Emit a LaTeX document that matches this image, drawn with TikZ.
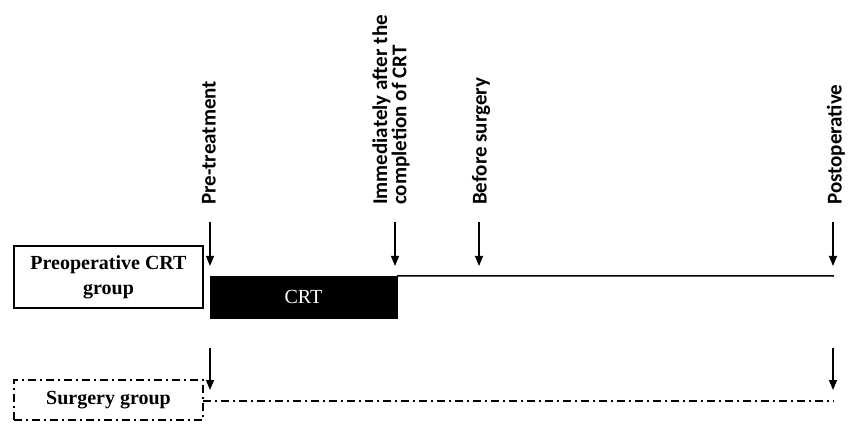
\documentclass[tikz,border=0pt]{standalone}
\usepackage{fontspec}
\setmainfont{Liberation Serif}
\newfontfamily\lab{Carlito}
\usetikzlibrary{arrows.meta}
\begin{document}
\begin{tikzpicture}[x=1pt,y=-1pt,
  grpbox/.style={draw, line width=1.2pt, minimum width=189pt, align=center, inner sep=0pt,
    font=\fontsize{20}{25}\selectfont\bfseries},
  lbl/.style={rotate=90, anchor=west, inner sep=0pt, align=left,
    font=\lab\bfseries\fontsize{21}{17}\selectfont},
  arr/.style={-{Triangle[length=10pt,width=8pt]}, line width=1.2pt},
  dashdotted2/.style={dash pattern=on 8pt off 4pt on 2pt off 4pt, line width=1.2pt}]
\useasboundingbox (0,0) rectangle (855,425);
% groups
\node[grpbox, minimum height=62pt] (pre) at (108.5,277) {Preoperative CRT\\group};
\node[grpbox, dashdotted2, minimum height=40pt] (surg) at (108.5,400) {Surgery group};
% CRT bar
\node[draw, fill=black, minimum width=187pt, minimum height=42pt, inner sep=0pt,
  text=white, font=\fontsize{20}{22}\selectfont] (crt) at (303.5,297) {CRT};
\coordinate (lineend) at (834,276);
\draw[line width=1.5pt] (crt.north east) -- (lineend);
\coordinate (sstart) at (203,401);
\coordinate (send) at (834,401);
\draw[dashdotted2] (sstart) -- (send);
% labels
\node[lbl] (l1) at (209,205) {Pre-treatment};
\node[lbl] (l2) at (391,205) {Immediately after the\\completion of CRT};
\node[lbl] (l3) at (481,205) {Before surgery};
\node[lbl] (l4) at (836,205) {Postoperative};
% arrows
\foreach \n/\x in {a1/210, a2/395, a3/479, a4/833}{
  \coordinate (\n s) at (\x,222);
  \coordinate (\n e) at (\x,266);
  \draw[arr] (\n s) -- (\n e);
}
\foreach \n/\x in {b1/210, b2/833}{
  \coordinate (\n s) at (\x,348);
  \coordinate (\n e) at (\x,390);
  \draw[arr] (\n s) -- (\n e);
}
\end{tikzpicture}
\end{document}
